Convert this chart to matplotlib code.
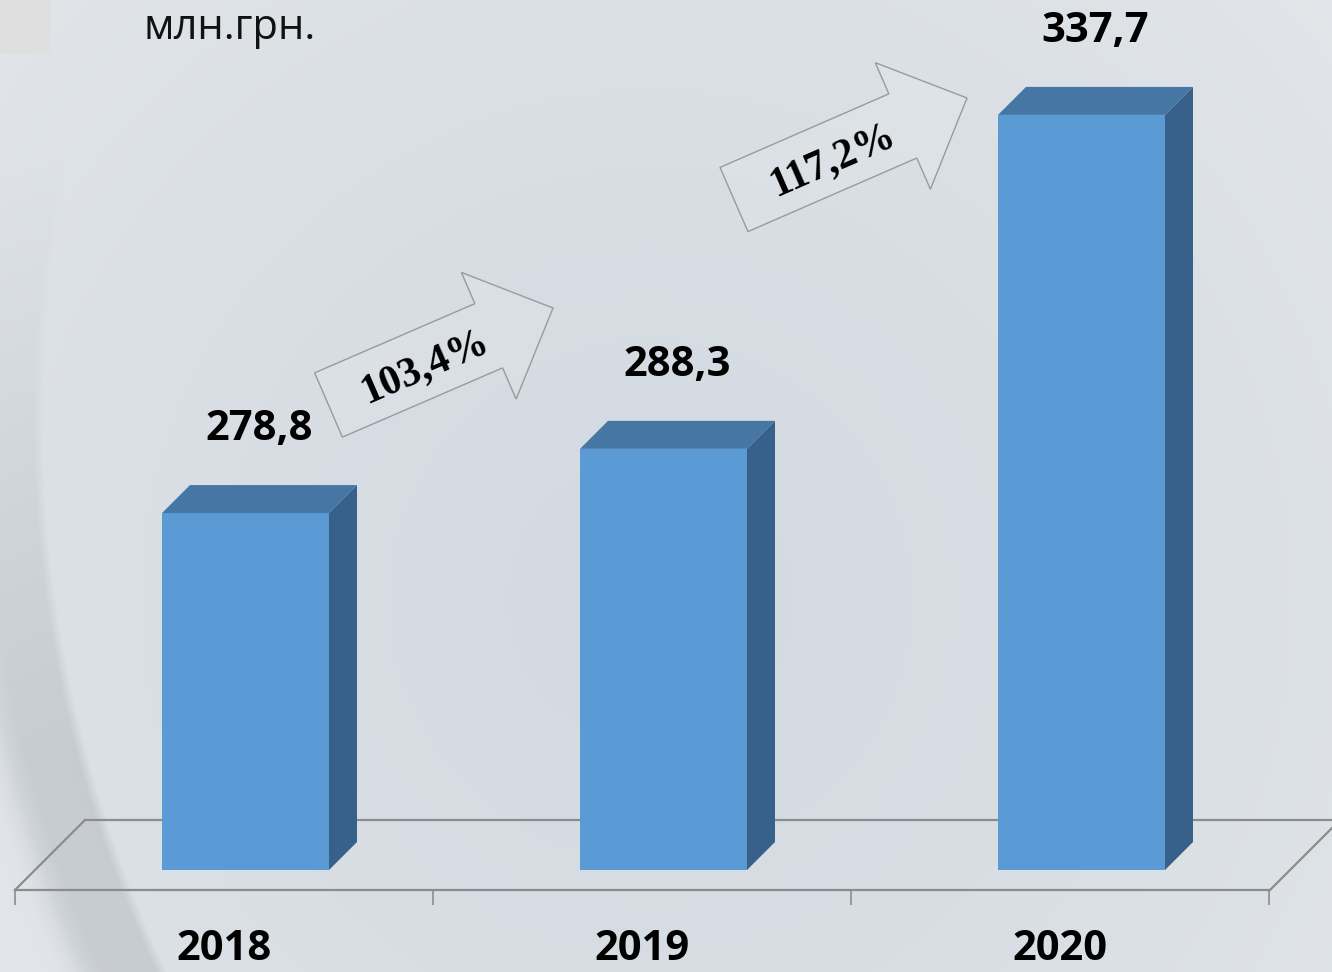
import numpy as np
import matplotlib
matplotlib.use('Agg')
import matplotlib.pyplot as plt
from matplotlib.patches import Polygon, FancyArrow, Rectangle

# chart data
years = ['2018', '2019', '2020']
values = [278.8, 288.3, 337.7]
growth = ['103,4%', '117,2%']
unit = 'млн.грн.'

W, H = 1332, 972
base = 226.0   # value sitting on the floor
ppy = 6.76     # pixels per unit (y)
ppx = 418.0    # pixels per category slot

fig = plt.figure(figsize=(W / 100, H / 100), dpi=100)

# background (pixel coordinates)
bg = fig.add_axes([0, 0, 1, 1])
yy, xx = np.mgrid[0:H, 0:W].astype(float)
t = np.clip(np.hypot(xx - 650, yy - 600) / 1100, 0, 1) ** 1.5
main = np.array([0.830, 0.856, 0.884])
light = np.array([0.905, 0.915, 0.925])
img = main * (1 - t[..., None]) + light * t[..., None]
d = np.hypot(xx - 1333, yy - 420) - 1290
dark = np.clip(d / 10, 0, 1) * np.clip((100 - d) / 40, 0, 1) * np.clip((yy - 150) / 600, 0, 1) * 0.08
img = img - dark[..., None]
ll = np.clip((d - 75) / 35, 0, 1)
img = img * (1 - ll[..., None]) + np.array([0.885, 0.897, 0.91]) * ll[..., None]
bg.imshow(np.clip(img, 0, 1), extent=(0, W, H, 0), aspect='auto', interpolation='bilinear', zorder=0)
bg.set_xlim(0, W)
bg.set_ylim(H, 0)
bg.axis('off')

bg.add_patch(Rectangle((0, 0), 50, 52, color='#dfdfdf', zorder=1))
bg.text(230, 28, unit, fontsize=30, family='Open Sans', color='#111111', ha='center', va='center')

# floor
floor_c = '#8c8c8c'
bg.plot([85, 1345], [820, 820], color=floor_c, lw=1.6, zorder=1)
bg.plot([15, 85], [890, 820], color=floor_c, lw=1.6, zorder=1)
bg.plot([1270, 1345], [890, 815], color=floor_c, lw=1.6, zorder=1)

# growth arrows
arrows = [((328.5, 405), (553, 308)), ((734, 199.5), (967, 98))]
text_pos = [(425, 367), (833, 160)]
for (p0, p1), lab, tp in zip(arrows, growth, text_pos):
    bg.add_patch(FancyArrow(p0[0], p0[1], p1[0] - p0[0], p1[1] - p0[1], width=70,
                            head_width=138, head_length=70, length_includes_head=True,
                            fc=(1, 1, 1, 0.1), ec='#9a9a9a', lw=1, zorder=2))
    ang = np.degrees(np.arctan2(p0[1] - p1[1], p1[0] - p0[0]))
    bg.text(tp[0], tp[1], lab, rotation=ang, rotation_mode='anchor', ha='center', va='center',
            fontsize=30, family='Liberation Serif', weight='bold', color='black', zorder=3)

# chart
ax = fig.add_axes([15 / W, (H - 890) / H, 1254 / W, 890 / H])
ax.set_facecolor('none')
ax.set_xlim(-0.5, 2.5)
ax.set_ylim(base - 20 / ppy, base + 870 / ppy)

x = np.arange(len(values))
shift = 21.5 / ppx
width = 167 / ppx
ddx = 28 / ppx
ddy = 28 / ppy

bars = ax.bar(x + shift, np.array(values) - base, bottom=base, width=width, color='#5b9bd5', zorder=3)
for b, v in zip(bars, values):
    x0 = b.get_x()
    x1 = x0 + b.get_width()
    ax.add_patch(Polygon([(x0, v), (x1, v), (x1 + ddx, v + ddy), (x0 + ddx, v + ddy)],
                         closed=True, fc='#4676a3', ec='none', zorder=3))
    ax.add_patch(Polygon([(x1, base), (x1 + ddx, base + ddy), (x1 + ddx, v + ddy), (x1, v)],
                         closed=True, fc='#37618a', ec='none', zorder=3))
    ax.annotate(f'{v:.1f}'.replace('.', ','), xy=((x0 + x1) / 2 + ddx / 2, v), xytext=(0, 60),
                textcoords='offset points', ha='center', va='center',
                fontsize=30, family='Open Sans', weight='bold', color='black')

ax.set_xticks(x, years)
ax.set_xticks([-0.5, 0.5, 1.5, 2.5], minor=True)
ax.tick_params(axis='x', which='major', length=0, pad=28)
ax.tick_params(axis='x', which='minor', length=10.8, width=1.2, color=floor_c, direction='out')
for lab in ax.get_xticklabels():
    lab.set_fontfamily('Open Sans')
    lab.set_fontweight('bold')
    lab.set_fontsize(30)
ax.set_yticks([])
for s in ['left', 'top', 'right']:
    ax.spines[s].set_visible(False)
ax.spines['bottom'].set_color(floor_c)
ax.spines['bottom'].set_linewidth(1.6)

fig.savefig('out.png', dpi=100)
